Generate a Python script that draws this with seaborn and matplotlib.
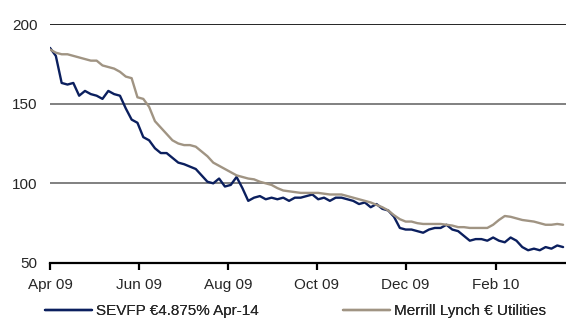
import matplotlib
matplotlib.use("Agg")
import matplotlib.pyplot as plt
import matplotlib.dates as mdates
import numpy as np
import pandas as pd
import seaborn as sns

# Observation dates: every 4 days from 1 Apr 2009
dates = pd.date_range("2009-04-01", periods=89, freq="4D")

sevfp = [
    185, 180, 163, 162, 163, 155, 158, 156, 155, 153,
    158, 156, 155, 147, 140, 138, 129, 127, 122, 119,
    119, 116, 113, 112, 110.5, 109, 105, 101, 100, 103,
    98, 99, 104, 97, 89, 91, 92, 90, 91, 90,
    91, 89, 91, 91, 92, 93, 90, 91, 89, 91,
    91, 90, 89, 87, 88, 85, 87, 84, 83, 79,
    72, 71, 71, 70, 69, 71, 72, 72, 74, 71,
    70, 67, 64, 65, 65, 64, 66, 64, 63, 66,
    64, 60, 58, 59, 58, 60, 59, 61, 60,
]

ml_utilities = [
    184, 182, 181, 181, 180, 179, 178, 177, 177, 174,
    173, 172, 170, 167, 166, 154, 153, 148, 139, 135,
    131, 127, 125, 124, 124, 123, 120, 117, 113, 111,
    109, 107, 105, 104, 103, 102.5, 101, 100, 99, 97,
    95.5, 95, 94.5, 94, 94, 94, 94, 93.5, 93, 93,
    93, 92, 91, 90, 89, 88, 86.5, 85, 83, 80,
    77.5, 76, 76, 75, 74.5, 74.5, 74.5, 74.5, 74, 73.5,
    72.5, 72.5, 72, 72, 72, 72, 74, 77, 79.5, 79,
    78, 77, 76.5, 76, 75, 74, 74, 74.5, 74,
]

series_names = ["SEVFP \u20ac4.875% Apr-14", "Merrill Lynch \u20ac Utilities"]
series_colors = ["#0b1f5e", "#a09483"]
y_ticks = [50, 100, 150, 200]

df = pd.concat([
    pd.DataFrame({"date": dates, "value": sevfp, "series": series_names[0]}),
    pd.DataFrame({"date": dates, "value": ml_utilities, "series": series_names[1]}),
])

sns.set_style("white")
plt.rcParams["font.family"] = ["Liberation Sans", "DejaVu Sans"]

fig = plt.figure(figsize=(5.66, 3.2), dpi=100)
ax = fig.add_axes([50 / 566, 1 - 263 / 320, 516 / 566, (263 - 24) / 320])

# Horizontal reference lines
ax.axhline(200, color="#000000", lw=1.2, zorder=1)
for y in (100, 150):
    ax.axhline(y, color="#6b6b6b", lw=1.2, zorder=1)

sns.lineplot(data=df, x="date", y="value", hue="series", hue_order=series_names,
             palette=series_colors, linewidth=1.7, ax=ax, legend=False, zorder=3)

ax.set_xlim(pd.Timestamp("2009-04-01"), pd.Timestamp("2010-03-21"))
ax.set_ylim(50, 200)
ax.set_yticks(y_ticks)
ax.set_yticklabels([str(t) for t in y_ticks])
ax.xaxis.set_major_locator(mdates.MonthLocator(bymonth=[2, 4, 6, 8, 10, 12]))
ax.xaxis.set_major_formatter(mdates.DateFormatter("%b %y"))
ax.set_xlabel("")
ax.set_ylabel("")

for side in ("left", "right", "top"):
    ax.spines[side].set_visible(False)
ax.spines["bottom"].set_color("#000000")
ax.spines["bottom"].set_linewidth(1.6)
ax.spines["bottom"].set_zorder(4)

ax.tick_params(axis="x", direction="out", length=5, width=1.6, color="#000000",
               labelsize=11, pad=6, bottom=True)
ax.tick_params(axis="y", length=0, labelsize=11, pad=9)

# One legend entry per series, placed side by side under the axis
legend_x = [45 / 566, 343 / 566]
for name, color, x0 in zip(series_names, series_colors, legend_x):
    leg = fig.legend([plt.Line2D([], [], color=color, lw=1.7)], [name],
                     loc="center left", bbox_to_anchor=(x0, 1 - 311 / 320),
                     frameon=False, fontsize=11, handlelength=3.1,
                     handletextpad=0.25, borderpad=0, borderaxespad=0)
    fig.add_artist(leg)

fig.savefig("out.png", dpi=100)
